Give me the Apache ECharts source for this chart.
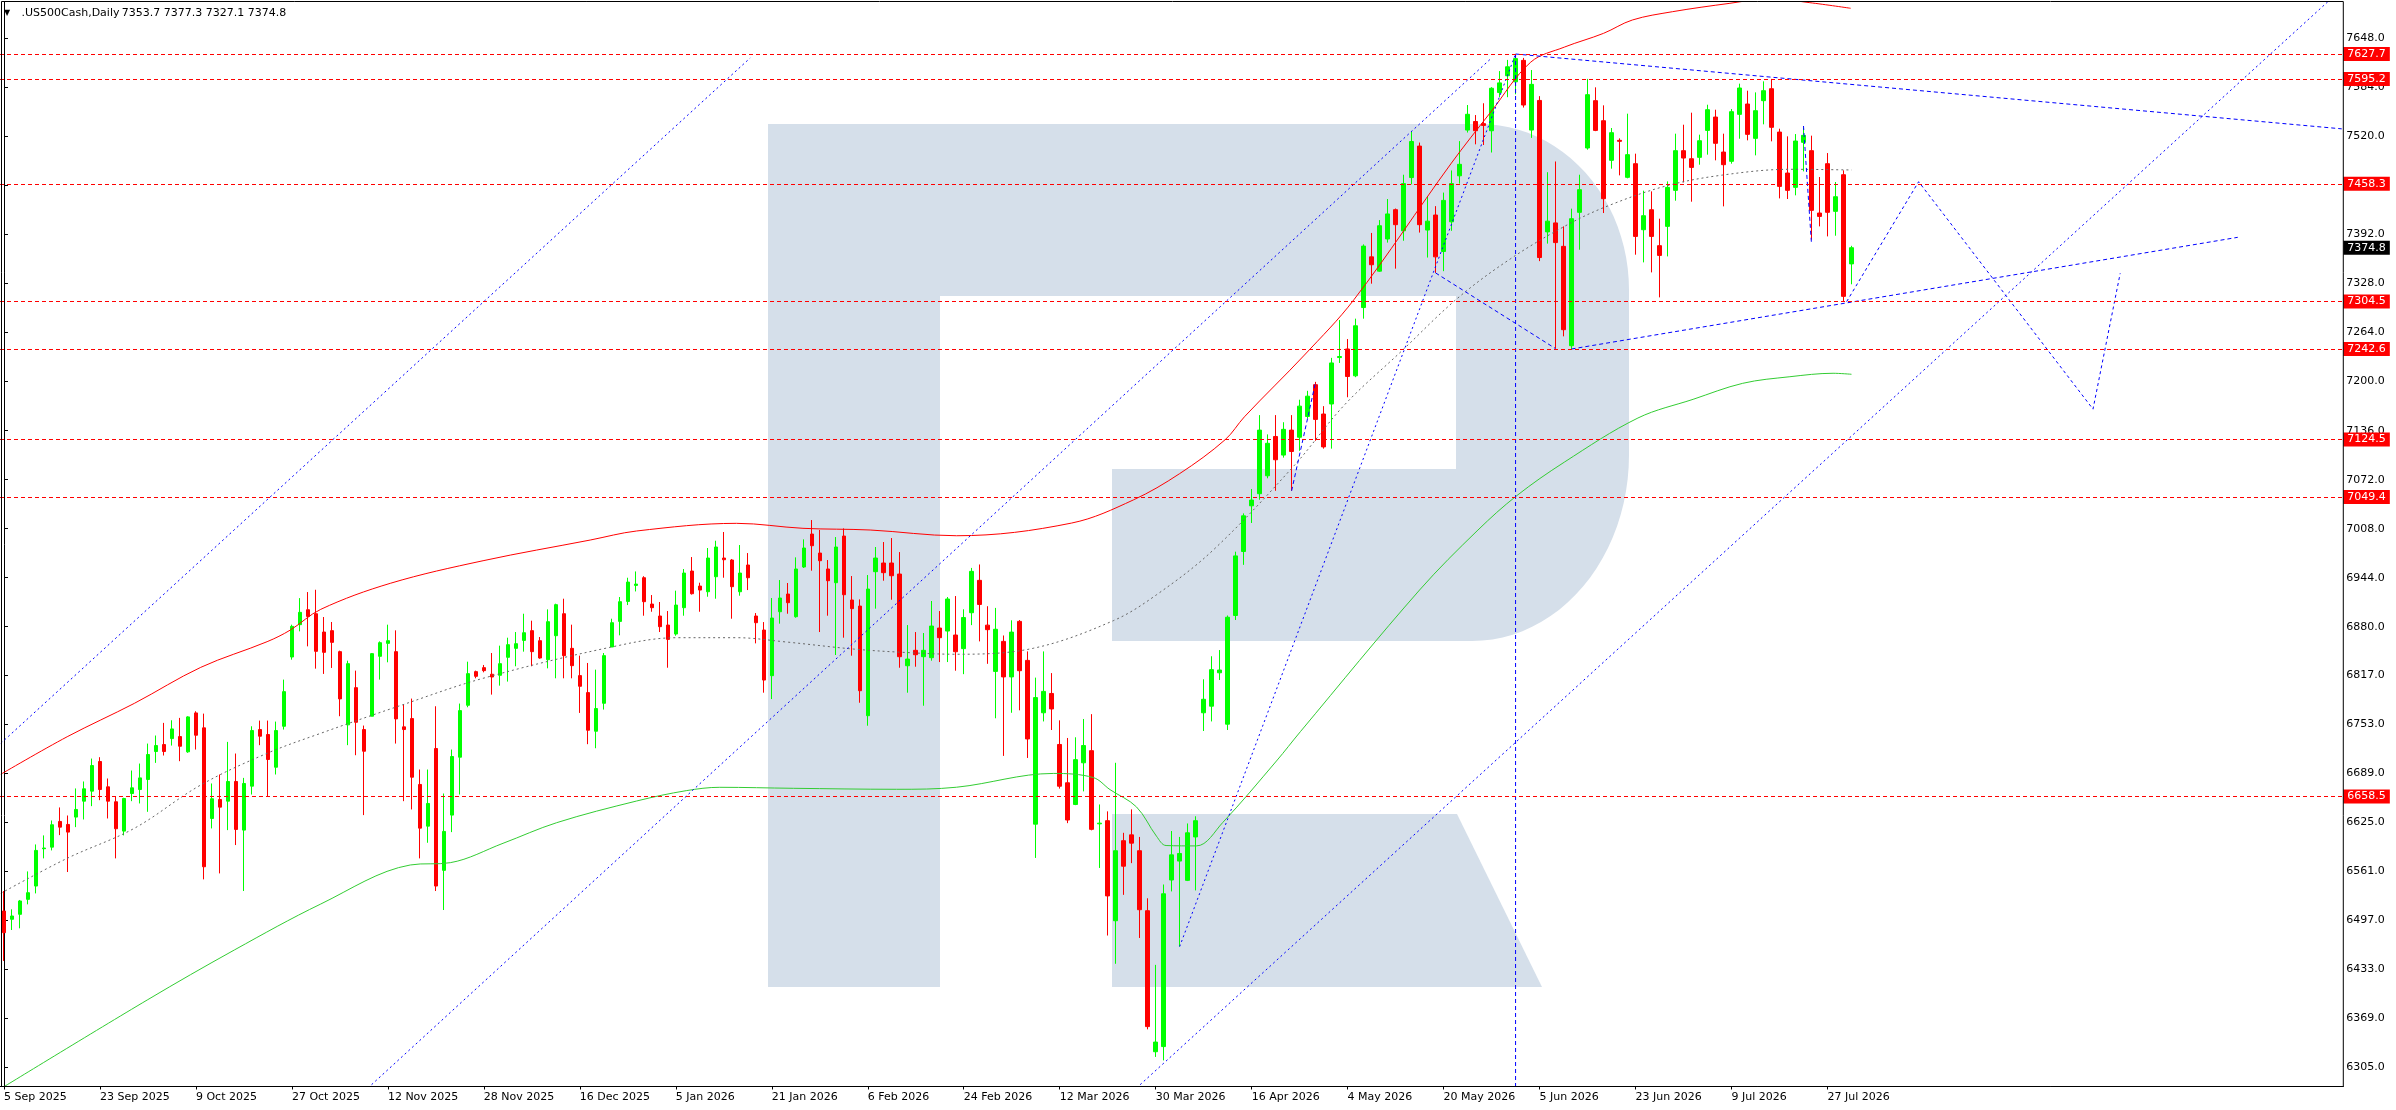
<!DOCTYPE html>
<html>
<head>
<meta charset="utf-8">
<script src="https://cdn.jsdelivr.net/npm/echarts@6/dist/echarts.min.js"></script>
<style>html,body{margin:0;padding:0;background:#fff;}#c{width:2396px;height:1110px;}</style>
</head>
<body>
<div id="c"></div>
<script>
// ---------------- data ----------------
const symbolName = '.US500Cash,Daily';
const dateLabels = ['5 Sep 2025','23 Sep 2025','9 Oct 2025','27 Oct 2025','12 Nov 2025','28 Nov 2025','16 Dec 2025','5 Jan 2026','21 Jan 2026','6 Feb 2026','24 Feb 2026','12 Mar 2026','30 Mar 2026','16 Apr 2026','4 May 2026','20 May 2026','5 Jun 2026','23 Jun 2026','9 Jul 2026','27 Jul 2026'];

const opens = [
6508.9,6498.1,6504.6,6524.1,6541.5,6590.2,6592.3,6625.8,6621.9,6631.5,
6652.3,6665.4,6704.1,6671.0,6651.5,6613.2,6662.3,6667.5,6680.6,6717.1,
6726.2,6734.0,6736.6,6716.7,6767.5,6748.0,6629.7,6654.5,6652.3,6678.0,
6614.5,6671.9,6745.8,6739.3,6696.6,6750.1,6840.5,6882.7,6902.2,6897.0,
6873.1,6874.9,6847.5,6751.9,6800.5,6745.8,6763.2,6841.4,6858.3,6847.5,
6749.3,6760.1,6674.1,6619.7,6721.0,6562.0,6634.1,6709.7,6777.5,6821.4,
6826.6,6818.0,6816.6,6840.1,6851.8,6862.2,6874.9,6861.8,6837.0,6868.3,
6897.0,6851.8,6816.2,6794.0,6743.6,6780.1,6853.6,6887.0,6913.1,6934.0,
6944.0,6909.6,6894.0,6882.2,6870.5,6904.9,6952.7,6933.1,6925.7,6945.3,
6969.7,6967.1,6925.7,6960.6,6894.0,6875.7,6816.1,6899.6,6922.7,6893.1,
6958.0,7001.0,6976.2,6955.4,6937.5,6998.4,6914.9,6907.0,6763.9,6951.9,
6963.2,6963.2,6948.8,6829.1,6849.2,6840.9,6839.6,6878.3,6874.4,6869.2,
6851.4,6898.3,6940.6,6882.1,6821.7,6860.9,6814.5,6887.0,6836.1,6622.3,
6767.7,6792.9,6726.3,6676.3,6648.0,6702.4,6718.2,6622.7,6626.8,6496.2,
6600.7,6608.3,6587.6,6509.3,6325.2,6331.9,6549.4,6574.1,6548.9,6605.6,
6767.7,6776.3,6819.9,6752.8,6894.7,6978.2,7037.9,7053.7,7077.1,7128.4,
7104.1,7136.7,7127.4,7154.5,7196.0,7157.7,7170.8,7231.4,7242.6,7207.6,
7296.7,7362.9,7344.2,7386.2,7424.5,7396.9,7466.4,7507.5,7397.9,7417.5,
7369.9,7408.6,7468.7,7528.4,7539.6,7536.8,7527.5,7577.4,7599.3,7591.4,
7619.4,7528.4,7567.1,7395.5,7407.2,7376.6,7246.9,7421.0,7505.0,7566.8,
7540.6,7488.9,7515.0,7466.7,7484.5,7398.3,7424.4,7377.5,7402.7,7449.7,
7501.5,7491.0,7492.8,7528.0,7545.4,7499.7,7487.6,7548.9,7562.4,7517.6,
7566.8,7582.4,7525.8,7472.3,7453.6,7512.4,7501.5,7420.1,7484.5,7422.3,
7470.1,7353.7];

const highs = [
6535.0,6511.1,6523.3,6560.6,6595.8,6607.6,6627.1,6644.1,6633.6,6668.9,
6678.0,6707.9,6709.7,6681.9,6658.9,6656.7,6692.3,6701.4,6727.5,6738.0,
6754.5,6757.9,6761.0,6763.2,6769.7,6766.6,6675.4,6687.1,6729.7,6714.5,
6682.7,6750.1,6757.5,6757.5,6756.2,6811.0,6882.7,6917.4,6925.3,6928.3,
6892.7,6886.2,6848.8,6835.7,6822.7,6751.0,6845.7,6860.9,6882.7,6875.3,
6778.4,6786.2,6693.6,6693.6,6776.2,6662.3,6719.7,6779.7,6834.4,6822.7,
6830.1,6845.7,6855.3,6865.7,6873.1,6897.0,6887.9,6866.6,6902.7,6910.1,
6916.6,6882.7,6842.3,6832.7,6824.0,6845.7,6890.5,6918.8,6944.0,6952.2,
6946.0,6921.4,6912.3,6900.5,6927.1,6955.4,6971.0,6937.5,6982.8,6992.3,
7003.7,6968.4,6986.7,6976.2,6897.9,6886.1,6917.5,6941.0,6937.1,6970.6,
6994.1,7019.3,7006.3,6967.1,6997.1,7008.4,6946.2,6915.7,6947.5,6984.1,
6990.6,6995.8,6977.5,6882.2,6873.1,6871.8,6913.6,6900.5,6918.8,6920.1,
6902.8,6956.8,6961.3,6906.8,6904.6,6868.6,6888.4,6888.8,6847.8,6813.6,
6847.8,6819.5,6757.8,6734.8,6735.7,6759.6,6765.9,6648.0,6639.0,6702.4,
6611.0,6641.6,6605.6,6525.5,6438.6,6543.5,6613.3,6605.6,6623.2,6632.6,
6811.4,6841.5,6849.6,6894.7,6978.0,7028.0,7059.8,7156.3,7131.1,7156.3,
7147.0,7156.3,7176.4,7188.0,7199.7,7168.0,7231.0,7280.4,7255.6,7282.2,
7379.2,7394.1,7410.9,7438.4,7426.0,7470.1,7527.0,7512.1,7442.2,7429.1,
7446.8,7475.7,7514.0,7561.1,7548.0,7563.4,7584.4,7605.4,7620.0,7627.7,
7622.6,7606.8,7572.7,7473.4,7487.4,7402.7,7425.8,7470.1,7595.2,7584.2,
7560.7,7531.1,7517.6,7549.8,7497.6,7449.3,7448.4,7412.7,7461.4,7523.7,
7535.4,7551.1,7522.4,7561.5,7555.0,7523.7,7555.9,7589.0,7579.8,7577.6,
7592.0,7595.2,7530.2,7520.2,7523.2,7531.1,7521.1,7467.1,7498.4,7460.6,
7475.8,7377.3];

const lows = [
6443.7,6484.1,6486.3,6517.6,6531.9,6577.6,6588.0,6608.0,6559.8,6618.4,
6628.4,6645.8,6653.6,6629.7,6577.6,6607.6,6652.3,6649.3,6638.4,6702.3,
6711.9,6724.9,6704.5,6715.4,6719.7,6550.2,6616.7,6558.0,6614.5,6595.0,
6535.0,6661.0,6725.4,6658.9,6687.1,6745.8,6837.0,6874.0,6854.4,6825.3,
6818.4,6826.2,6763.2,6725.4,6712.3,6634.1,6763.2,6811.0,6833.6,6727.5,
6652.3,6641.5,6577.6,6598.0,6535.0,6510.2,6611.9,6661.0,6774.9,6812.7,
6820.5,6791.4,6803.1,6808.4,6828.4,6847.5,6828.4,6838.3,6825.7,6812.7,
6812.7,6812.7,6767.5,6726.7,6721.4,6771.9,6853.6,6868.8,6908.3,6926.1,
6894.4,6899.6,6873.1,6826.5,6868.3,6894.4,6922.0,6899.6,6919.2,6916.6,
6944.0,6890.5,6920.5,6927.9,6858.3,6793.9,6785.6,6884.0,6897.0,6891.8,
6956.7,6953.2,6873.1,6894.4,6843.1,6865.7,6842.2,6780.8,6750.8,6903.6,
6940.1,6915.3,6826.5,6793.9,6827.8,6776.9,6835.7,6833.9,6833.9,6822.6,
6818.1,6882.1,6860.9,6831.6,6760.5,6711.4,6767.7,6770.9,6708.7,6578.2,
6756.4,6745.2,6668.7,6623.6,6647.1,6665.1,6614.2,6565.1,6476.9,6440.0,
6530.0,6571.4,6473.7,6354.4,6318.4,6313.9,6534.5,6462.5,6548.0,6535.8,
6743.9,6756.4,6810.5,6745.2,6888.8,6960.8,7015.5,7045.8,7073.8,7057.5,
7100.8,7057.5,7109.7,7151.7,7122.8,7112.5,7112.5,7224.4,7179.6,7205.8,
7282.2,7327.9,7343.3,7381.5,7347.5,7383.9,7457.6,7394.6,7362.0,7341.9,
7344.2,7396.9,7458.5,7525.2,7509.8,7508.9,7499.1,7571.3,7571.3,7575.1,
7557.8,7518.2,7357.3,7380.2,7243.1,7259.1,7242.6,7372.2,7502.8,7527.0,
7420.1,7478.0,7469.3,7465.4,7365.7,7355.7,7342.6,7310.0,7363.5,7436.2,
7460.1,7434.9,7483.2,7496.3,7488.9,7428.8,7484.5,7517.1,7515.0,7495.4,
7535.9,7513.7,7439.2,7438.4,7443.2,7474.5,7385.3,7402.7,7389.6,7390.5,
7304.5,7327.1];

const closes = [
6480.6,6502.4,6522.0,6532.8,6588.0,6591.1,6621.5,6618.4,6611.9,6641.5,
6668.4,6698.8,6667.5,6652.3,6616.3,6655.8,6669.7,6682.7,6713.2,6724.9,
6717.1,6746.6,6724.0,6762.3,6738.4,6566.7,6655.4,6644.5,6678.0,6615.4,
6675.4,6744.5,6737.1,6706.7,6744.5,6795.3,6880.5,6898.8,6893.5,6847.9,
6846.6,6859.6,6785.8,6831.8,6755.3,6717.5,6844.9,6859.2,6861.8,6759.7,
6745.8,6683.6,6617.1,6649.3,6541.5,6612.8,6710.6,6770.5,6818.8,6815.3,
6822.7,6814.4,6831.8,6856.6,6857.9,6872.2,6847.5,6839.2,6886.6,6908.8,
6842.3,6829.2,6802.3,6744.9,6773.2,6842.3,6885.3,6912.7,6938.3,6935.7,
6912.7,6904.9,6880.1,6863.5,6908.3,6950.1,6923.1,6927.9,6969.7,6984.1,
6967.5,6932.3,6950.1,6944.0,6885.3,6810.4,6891.4,6917.5,6911.4,6955.4,
6982.8,6985.8,6966.2,6940.1,6984.1,6921.8,6903.6,6796.5,6929.2,6969.7,
6950.6,6946.6,6840.9,6837.8,6843.5,6849.2,6880.9,6865.7,6916.2,6847.4,
6892.0,6952.3,6909.1,6876.2,6876.7,6814.5,6873.0,6822.6,6733.5,6787.5,
6795.6,6772.7,6671.8,6627.7,6706.5,6724.9,6615.5,6623.6,6528.6,6587.6,
6567.4,6597.5,6510.6,6358.0,6337.8,6531.4,6582.2,6584.0,6611.0,6626.8,
6785.3,6824.0,6823.5,6892.4,6972.5,7024.8,7045.4,7136.7,7119.5,7098.0,
7137.7,7108.8,7168.0,7181.0,7150.7,7114.8,7224.4,7232.8,7206.7,7272.9,
7376.9,7352.6,7403.5,7418.9,7404.9,7458.5,7513.5,7404.9,7409.5,7362.9,
7436.6,7458.5,7483.7,7549.0,7527.5,7534.5,7583.0,7590.0,7611.0,7621.7,
7561.1,7588.1,7362.0,7409.5,7381.5,7267.8,7412.7,7450.6,7574.6,7528.0,
7438.8,7525.0,7513.7,7496.3,7389.6,7416.6,7389.6,7364.8,7453.6,7501.5,
7491.9,7479.7,7514.5,7555.0,7511.1,7483.2,7552.4,7583.3,7522.8,7553.7,
7579.8,7532.0,7454.9,7449.7,7514.1,7521.5,7423.6,7415.7,7421.0,7441.4,
7311.3,7374.8];

// indicator lines: [bar index, price]
const upperBand = [[-0.4,6687.4],[7.9,6736.4],[16.3,6780.0],[24.6,6827.0],[32.9,6860.5],[35.8,6875.7],[39.6,6902.7],[48.3,6936.7],[59.9,6966.2],[73.3,6993.2],[79.1,7005.0],[91.6,7015.0],[99.9,7008.5],[108.3,7006.3],[119.1,6998.8],[133.5,7015.4],[141.2,7045.5],[147.0,7079.9],[152.7,7124.3],[155.1,7154.1],[162.6,7234.7],[168.8,7307.1],[180.9,7484.2],[185.9,7551.9],[190.9,7617.1],[195.1,7636.7],[200.0,7654.7],[203.6,7672.1],[208.6,7682.9],[215.8,7693.9],[220.8,7700.0],[225.8,7694.7],[230.9,7687.4]];
const middleBand = [[-0.4,6532.0],[7.9,6577.7],[16.3,6616.9],[24.6,6673.4],[32.9,6714.8],[39.6,6740.9],[49.5,6776.9],[59.9,6812.7],[75.8,6853.2],[84.1,6865.7],[91.6,6865.7],[97.8,6860.1],[106.2,6850.9],[112.4,6846.6],[119.1,6844.1],[128.7,6851.9],[138.7,6887.9],[144.1,6921.7],[151.2,6980.2],[161.3,7090.2],[167.6,7169.5],[174.7,7239.4],[181.8,7309.3],[188.4,7360.6],[195.1,7402.6],[200.3,7428.4],[207.8,7455.4],[214.9,7469.7],[223.3,7477.2],[231.0,7476.3]];
const lowerBand = [[-0.4,6277.0],[17.9,6392.7],[28.8,6458.0],[39.6,6518.0],[50.8,6569.0],[55.8,6572.0],[62.4,6597.3],[69.1,6624.2],[79.1,6652.5],[85.3,6666.0],[89.5,6670.4],[98.7,6669.1],[111.6,6667.8],[119.1,6670.5],[131.2,6688.5],[136.2,6683.1],[138.3,6667.3],[141.6,6644.8],[144.1,6606.6],[145.3,6594.4],[149.1,6593.9],[152.4,6624.6],[159.1,6704.7],[162.1,6743.1],[177.0,6928.0],[184.3,7006.3],[189.1,7050.7],[195.1,7094.9],[204.3,7152.5],[211.2,7176.9],[217.4,7197.8],[223.3,7206.4],[228.7,7210.9],[231.0,7209.6]];

// hand-drawn trend objects: [bar index, price]
const channelA = [[-0.4,6727.8],[93.3,7622.5]];
const channelB = [[45.5,6277.8],[186.0,7622.5]];
const channelC = [[141.6,6277.8],[290.8,7698.2]];
const riseLine = [[147,6462.5],[189,7627.7]];
const topLine = [[189,7627.7],[292.3,7530.0]];
const supportLine = [[196,7242.6],[279.3,7388.4]];
const dropLine = [[179,7341.9],[194,7243.1]];
const swingLine = [[161,7057.5],[164,7199.7]];
const julyLine = [[225,7533.7],[226,7380.0]];
const forecastPath = [[230.4,7304.5],[239.4,7461.0],[261.2,7164.1],[264.6,7341.4]];
const peakMarker = [[189,6270.0],[189,7627.7]];

const levelLines = [7627.7,7595.2,7458.3,7304.5,7242.6,7124.5,7049.4,6658.5];
const yTickValues = [6305,6369,6433,6497,6561,6625,6689,6753,6817,6880,6944,7008,7072,7136,7200,7264,7328,7392,7456,7520,7584,7648];
const yLabelValues = [6305,6369,6433,6497,6561,6625,6689,6753,6817,6880,6944,7008,7072,7136,7200,7264,7328,7392,7520,7584,7648];

// ---------------- chart ----------------
const N_CAT = 293;
const LAST = opens.length - 1;
const categories = Array.from({length: N_CAT}, (_, i) => String(i));
const candleData = opens.map((o, i) => [o, closes[i], lows[i], highs[i]]);
const FONT = '"DejaVu Sans", Verdana, sans-serif';
const labelIdx = (i) => i % 12 === 0 && i / 12 < dateLabels.length;

function trend(data, dash) {
  return {
    type: 'line', xAxisIndex: 1, yAxisIndex: 0, data: data,
    showSymbol: false, symbol: 'none', silent: true, z: 5, clip: true,
    lineStyle: {color: '#0000ff', width: 1, type: dash || [2, 3]}
  };
}
function band(data, color, dash) {
  return {
    type: 'line', xAxisIndex: 1, yAxisIndex: 0, data: data, smooth: 0.35,
    showSymbol: false, symbol: 'none', silent: true, z: 4, clip: true,
    lineStyle: {color: color, width: 1, type: dash || 'solid'}
  };
}

// watermark logo outline (decoration, in pixels)
function arcPts(cx, cy, rx, ry, a0, a1, n) {
  const pts = [];
  for (let k = 0; k <= n; k++) {
    const a = a0 + (a1 - a0) * k / n;
    pts.push([cx + rx * Math.cos(a), cy + ry * Math.sin(a)]);
  }
  return pts;
}
const logoBody = [[768,124]]
  .concat(arcPts(1480, 290, 149, 166, -Math.PI / 2, 0, 24))
  .concat(arcPts(1472, 455, 157, 186, 0, Math.PI / 2, 24))
  .concat([[1112,641],[1112,469],[1456,469],[1456,296],[940,296],[940,987],[768,987]]);
const logoLeg = [[1112,814],[1457,814],[1542,987],[1112,987]];

const chart = echarts.init(document.getElementById('c'), null, {renderer: 'canvas', width: 2396, height: 1110});

const lastClose = closes[LAST];
const markData = levelLines.map(v => ({yAxis: v}));
markData.push({yAxis: lastClose, lineStyle: {color: 'rgba(0,0,0,0)', width: 1}, label: {backgroundColor: '#000000', color: '#ffffff'}});

const option = {
  animation: false,
  backgroundColor: '#ffffff',
  grid: {left: -0.67, right: 52.67, top: 2, bottom: 23.5, containLabel: false},
  xAxis: [
    {
      type: 'category', data: categories, boundaryGap: true,
      axisLine: {show: true, lineStyle: {color: '#000', width: 1}},
      axisTick: {show: true, alignWithLabel: true, interval: (i) => labelIdx(i), length: 3, lineStyle: {color: '#000'}},
      axisLabel: {
        show: true, interval: (i) => labelIdx(i), hideOverlap: false,
        formatter: (v, i) => (labelIdx(i) ? dateLabels[i / 12] : ''),
        align: 'left', margin: 5, color: '#000', fontSize: 11, fontFamily: FONT
      },
      splitLine: {show: false}
    },
    {type: 'value', min: -0.5, max: N_CAT - 0.5, show: false, splitLine: {show: false}}
  ],
  yAxis: {
    type: 'value', position: 'right', min: 6279.8, max: 7695.6, scale: true,
    axisLine: {show: true, lineStyle: {color: '#000', width: 1}},
    axisTick: {show: true, customValues: yTickValues, length: 4, lineStyle: {color: '#000'}},
    axisLabel: {show: true, customValues: yLabelValues, formatter: (v) => Number(v).toFixed(1), margin: 3, color: '#000', fontSize: 11, fontFamily: FONT},
    splitLine: {show: false}
  },
  graphic: [
    {type: 'polygon', z: 1, silent: true, shape: {points: logoBody}, style: {fill: '#d5dfea'}},
    {type: 'polygon', z: 1, silent: true, shape: {points: logoLeg}, style: {fill: '#d5dfea'}},
    {type: 'rect', z: 50, silent: true, shape: {x: 1.5, y: 1.5, width: 2341.8, height: 1085}, style: {fill: 'none', stroke: '#000', lineWidth: 1}},
    {type: 'text', x: 4, y: 13, z: 60, silent: true, style: {text: '\u25BC', font: '8px ' + FONT, fill: '#000', verticalAlign: 'middle'}},
    {type: 'text', x: 21.5, y: 13, z: 60, silent: true, style: {text: symbolName, font: '11px ' + FONT, fill: '#000', verticalAlign: 'middle'}},
    {type: 'text', x: 121.7, y: 13, z: 60, silent: true, style: {text: [opens[LAST], highs[LAST], lows[LAST], closes[LAST]].map(v => v.toFixed(1)).join(' '), font: '11px ' + FONT, fill: '#000', verticalAlign: 'middle'}}
  ],
  series: [
    {
      type: 'candlestick', xAxisIndex: 0, yAxisIndex: 0, data: candleData, barWidth: 4, z: 3,
      itemStyle: {color: '#00ff00', color0: '#ff0000', borderColor: '#00ff00', borderColor0: '#ff0000', borderWidth: 1},
      markLine: {
        silent: true, symbol: ['none', 'none'], animation: false, precision: 1, z: 10,
        lineStyle: {color: '#ff0000', type: [4, 3], width: 1},
        label: {
          show: true, position: 'end', distance: 0,
          formatter: (p) => Number(p.value).toFixed(1),
          color: '#ffffff', backgroundColor: '#ff0000', padding: [1, 4, 1, 4],
          fontSize: 11, lineHeight: 12, fontFamily: FONT
        },
        data: markData
      }
    },
    band(upperBand, '#ff0000'),
    band(middleBand, '#666666', [2, 3]),
    band(lowerBand, '#33cc33'),
    trend(channelA), trend(channelB), trend(channelC), trend(riseLine),
    trend(topLine, [4, 3]), trend(supportLine, [4, 3]), trend(dropLine, [4, 3]),
    trend(swingLine, [4, 3]), trend(julyLine, [4, 3]), trend(forecastPath, [3, 3]),
    trend(peakMarker, [4, 3])
  ]
};
chart.setOption(option);
</script>
</body>
</html>
